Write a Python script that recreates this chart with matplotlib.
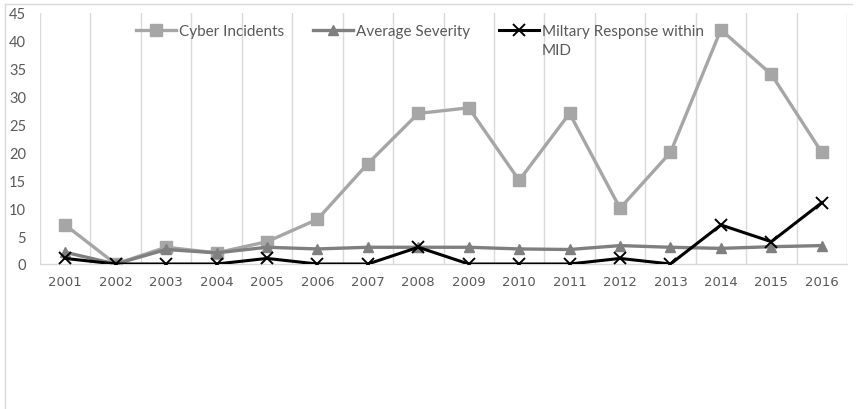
import matplotlib
matplotlib.use("Agg")
import matplotlib.pyplot as plt
from matplotlib.lines import Line2D

years = ["2001", "2002", "2003", "2004", "2005", "2006", "2007", "2008",
         "2009", "2010", "2011", "2012", "2013", "2014", "2015", "2016"]
cyber_incidents = [7, 0, 3, 2, 4, 8, 18, 27, 28, 15, 27, 10, 20, 42, 34, 20]
average_severity = [2.1, 0, 2.6, 2.0, 3.0, 2.7, 3.0, 3.0, 3.0, 2.7, 2.6, 3.3, 3.0, 2.8, 3.1, 3.3]
military_response = [1, 0, 0, 0, 1, 0, 0, 3, 0, 0, 0, 1, 0, 7, 4, 11]
y_ticks = [0, 5, 10, 15, 20, 25, 30, 35, 40, 45]
series_labels = ["Cyber Incidents", "Average Severity", "Miltary Response within\nMID"]

plt.rcParams['font.family'] = ['Lato', 'DejaVu Sans']

W, H = 858, 410
fig = plt.figure(figsize=(W / 100, H / 100), dpi=100)
ax = fig.add_axes([40 / W, 1 - 265 / H, (847 - 40) / W, (265 - 14) / H])

x = list(range(len(years)))
ax.plot(x, cyber_incidents, color="#A6A6A6", lw=2.4, marker="s", ms=8,
        label=series_labels[0], zorder=3)
ax.plot(x, average_severity, color="#7F7F7F", lw=2.4, marker="^", ms=7.5,
        label=series_labels[1], zorder=4)
ax.plot(x, military_response, color="#000000", lw=2.2, marker="x", ms=8, mew=1.4,
        label=series_labels[2], zorder=5)

ax.set_xlim(-0.5, len(years) - 0.5)
ax.set_ylim(0, 45)
ax.set_yticks(y_ticks)
ax.set_yticklabels([str(v) for v in y_ticks], fontsize=10.5, color="#595959")
ax.set_xticks(x)
ax.set_xticklabels(years, fontsize=9.5, color="#595959",
                   family=['DejaVu Sans'])
ax.set_xticks([i + 0.5 for i in range(-1, len(years))], minor=True)
ax.tick_params(axis="both", which="both", length=0)
ax.tick_params(axis="x", pad=8)
ax.tick_params(axis="y", pad=10)
ax.grid(True, which="minor", axis="x", color="#D9D9D9", lw=1)
ax.grid(False, which="major")
for s in ["left", "right", "top"]:
    ax.spines[s].set_visible(False)
ax.spines["bottom"].set_color("#D9D9D9")
ax.spines["bottom"].set_linewidth(1)

leg = ax.legend(loc="upper left", bbox_to_anchor=(136 / W, 1 - 25 / H),
                bbox_transform=fig.transFigure, ncol=3, frameon=False,
                fontsize=11, handlelength=2.6, handleheight=1.2,
                columnspacing=1.9, handletextpad=0.2, borderaxespad=0,
                borderpad=0, labelspacing=0)
for t in leg.get_texts():
    t.set_color("#595959")
    t.set_linespacing(1.45)
# align entries and columns on their top (first line) like the reference
hb = leg._legend_handle_box
hb.align = "top"
for col in hb.get_children():
    col.align = "left"
    for item in col.get_children():
        item.align = "top"

# outer chart frame (left and top edges visible)
fig.add_artist(Line2D([5 / W, 5 / W], [1 - 5 / H, 0], color="#D9D9D9", lw=1,
                      transform=fig.transFigure))
fig.add_artist(Line2D([5 / W, 852 / W], [1 - 5 / H, 1 - 5 / H], color="#D9D9D9", lw=1,
                      transform=fig.transFigure))

fig.savefig("out.png", dpi=100, facecolor="white")
